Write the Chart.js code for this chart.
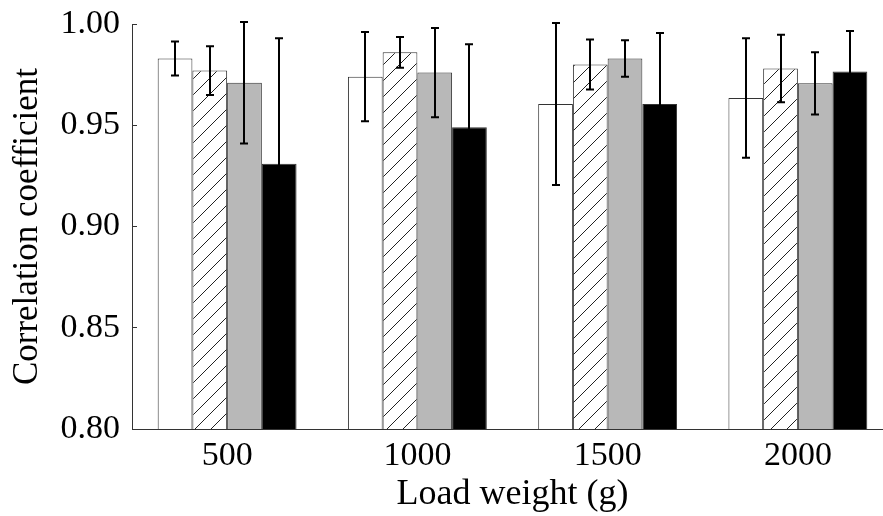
<!DOCTYPE html>
<html>
<head>
<meta charset="utf-8">
<script src="https://cdn.jsdelivr.net/npm/chart.js@4/dist/chart.umd.min.js"></script>
<style>
  html, body { margin: 0; padding: 0; background: #fff; overflow: hidden; }
  #wrap { width: 895px; height: 516px; }
</style>
</head>
<body>
<div id="wrap"><canvas id="chart"></canvas></div>
<script>
// data
const loadWeights = ["500", "1000", "1500", "2000"];
const seriesNames = ["Condition A", "Condition B", "Condition C", "Condition D"];

const meanA = [0.983, 0.974, 0.9605, 0.9635];
const meanB = [0.977, 0.986, 0.980, 0.978];
const meanC = [0.971, 0.976, 0.983, 0.9707];
const meanD = [0.931, 0.949, 0.9605, 0.9766];

const errA = [0.0084, 0.022, 0.040, 0.0295];
const errB = [0.012, 0.0076, 0.0123, 0.0167];
const errC = [0.030, 0.022, 0.009, 0.0154];
const errD = [0.062, 0.041, 0.035, 0.020];

const yTickMin = 0.8;
const yTickMax = 1.0;
const yTickStep = 0.05;

// shared styles
const serif = "'Liberation Serif', 'Times New Roman', serif";
const edge = "#333";

const makeHatch = () => {
  const c = document.createElement("canvas");
  c.width = 16;
  c.height = 16;
  const g = c.getContext("2d");
  g.fillStyle = "#fff";
  g.fillRect(0, 0, 16, 16);
  g.strokeStyle = "#222";
  g.lineWidth = 1;
  g.beginPath();
  g.moveTo(-2, 18);
  g.lineTo(18, -2);
  g.stroke();
  return g.createPattern(c, "repeat");
};

const barStyle = {
  borderColor: edge,
  borderWidth: 1,
  barPercentage: 1,
  categoryPercentage: 0.73,
};

// error bars drawn on top of the bars
const errorBars = {
  id: "errorBars",
  afterDatasetsDraw(chart) {
    const ctx = chart.ctx;
    const y = chart.scales.y;
    ctx.save();
    ctx.strokeStyle = "#000";
    ctx.lineWidth = 2;
    chart.data.datasets.forEach((ds, i) => {
      chart.getDatasetMeta(i).data.forEach((bar, j) => {
        const x = Math.round(bar.x);
        const top = y.getPixelForValue(ds.data[j] + ds.errors[j]);
        const bottom = y.getPixelForValue(ds.data[j] - ds.errors[j]);
        ctx.beginPath();
        ctx.moveTo(x, top);
        ctx.lineTo(x, bottom);
        ctx.moveTo(x - 4, top);
        ctx.lineTo(x + 4, top);
        ctx.moveTo(x - 4, bottom);
        ctx.lineTo(x + 4, bottom);
        ctx.stroke();
      });
    });
    ctx.restore();
  },
};

new Chart(document.getElementById("chart"), {
  type: "bar",
  data: {
    labels: loadWeights,
    datasets: [
      { label: seriesNames[0], data: meanA, errors: errA, backgroundColor: "#fff", ...barStyle },
      { label: seriesNames[1], data: meanB, errors: errB, backgroundColor: makeHatch(), ...barStyle },
      { label: seriesNames[2], data: meanC, errors: errC, backgroundColor: "#b8b8b8", ...barStyle },
      { label: seriesNames[3], data: meanD, errors: errD, backgroundColor: "#000", ...barStyle },
    ],
  },
  plugins: [errorBars],
  options: {
    responsive: true,
    maintainAspectRatio: false,
    animation: false,
    layout: {
      padding: { top: 24, right: 2, bottom: 0, left: 0 },
    },
    scales: {
      x: {
        grid: { display: false, drawTicks: false },
        border: { display: true, color: edge, width: 1 },
        ticks: {
          color: "#000",
          padding: 7,
          font: { family: serif, size: 34 },
        },
        title: {
          display: true,
          text: "Load weight (g)",
          color: "#000",
          padding: { top: 0, bottom: 0 },
          font: { family: serif, size: 36 },
        },
        afterFit: (scale) => {
          scale.height = 87;
        },
      },
      y: {
        min: yTickMin,
        max: yTickMax,
        grid: {
          drawOnChartArea: false,
          drawTicks: true,
          tickLength: -5,
          color: edge,
        },
        border: { display: true, color: edge, width: 1 },
        ticks: {
          stepSize: yTickStep,
          color: "#000",
          padding: 17,
          font: { family: serif, size: 34 },
          callback: (v) => v.toFixed(2),
        },
        title: {
          display: true,
          text: "Correlation coefficient",
          color: "#000",
          padding: { top: 7, bottom: 0 },
          font: { family: serif, size: 35 },
        },
        afterFit: (scale) => {
          scale.width = 132;
          scale.paddingTop = 20;
          scale.paddingBottom = 20;
        },
      },
    },
    plugins: {
      legend: { display: false },
      tooltip: { enabled: false },
    },
  },
});
</script>
</body>
</html>
